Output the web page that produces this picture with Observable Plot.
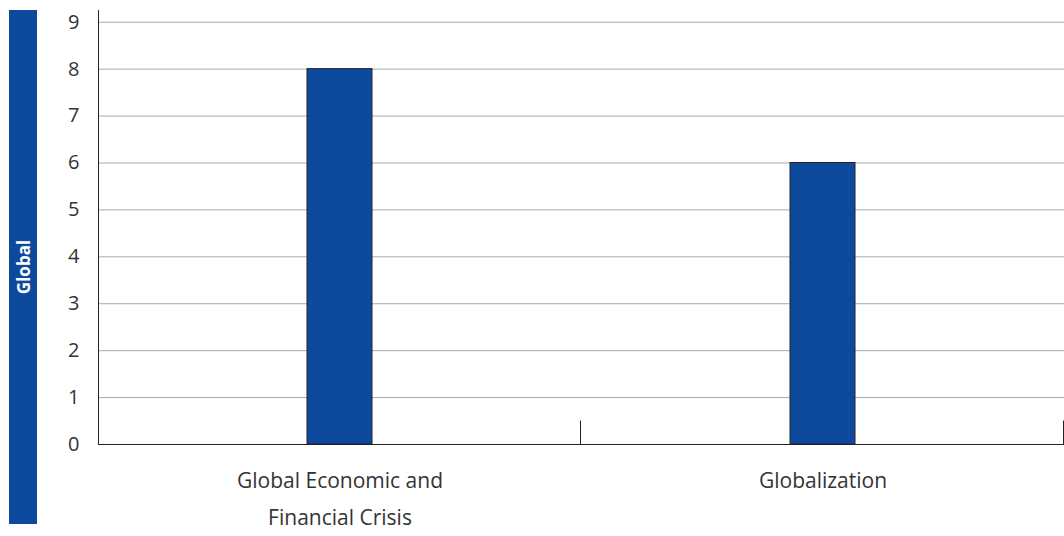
<!DOCTYPE html>
<html>
<head>
<meta charset="utf-8">
<script src="https://cdn.jsdelivr.net/npm/d3@7"></script>
<script src="https://cdn.jsdelivr.net/npm/@observablehq/plot@0.6"></script>
<style>
  html, body { margin: 0; padding: 0; background: #fff; }
  #wrap { position: relative; width: 1064px; height: 536px; font-family: "Open Sans", sans-serif; }
  #strip { position: absolute; left: 9px; top: 10px; width: 28px; height: 514px; background: #0d4a9e; }
  #strip span { position: absolute; left: 50%; top: 50%; transform: translate(-50%, -50%) rotate(-90deg); color: #fff; font-weight: bold; font-size: 17px; white-space: nowrap; }
  #chart { position: absolute; left: 0; top: 0; }
</style>
</head>
<body>
<div id="wrap">
  <div id="strip"><span>Global</span></div>
  <div id="chart"></div>
</div>
<script>
const groupLabel = "Global";
const categories = ["Global Economic and Financial Crisis", "Globalization"];
const categoryLines = ["Global Economic and\nFinancial Crisis", "Globalization"];
const values = [8, 6];
const yTicks = [0, 1, 2, 3, 4, 5, 6, 7, 8, 9];

const data = categories.map((c, i) => ({category: c, label: categoryLines[i], value: values[i]}));

const W = 1064, H = 536, mL = 98, mR = 0, mT = 10, mB = 92;
const halfBand = (W - mL - mR) / categories.length / 2;

const chart = Plot.plot({
  width: W,
  height: H,
  marginLeft: mL,
  marginRight: mR,
  marginTop: mT,
  marginBottom: mB,
  style: {fontFamily: "'Open Sans', sans-serif", fontSize: "20px", color: "#333", background: "transparent"},
  x: {type: "band", domain: categories, padding: 0, axis: null},
  y: {domain: [0, 9.25], ticks: yTicks, axis: null},
  marks: [
    Plot.ruleY(yTicks.filter(t => t > 0), {stroke: "#aaa", strokeWidth: 1, strokeOpacity: 1}),
    Plot.axisY({ticks: yTicks, tickSize: 0, tickPadding: 19, fontSize: 20, fill: "#333", label: null}),
    Plot.barY(data, {x: "category", y: "value", fill: "#0d4a9e", stroke: "#222", strokeWidth: 1, insetLeft: 209, insetRight: 209}),
    Plot.frame({anchor: "left", stroke: "#222"}),
    Plot.frame({anchor: "bottom", stroke: "#222"}),
    Plot.ruleX(categories, {x: d => d, dx: halfBand - 1, y1: 0, y2: 0.5, stroke: "#222"}),
    Plot.text(data, {x: "category", y: 0, text: "label", frameAnchor: "bottom", lineAnchor: "top", dy: 17, lineHeight: 1.76, fontSize: 21, fill: "#333"})
  ]
});
document.getElementById("chart").appendChild(chart);
</script>
</body>
</html>
